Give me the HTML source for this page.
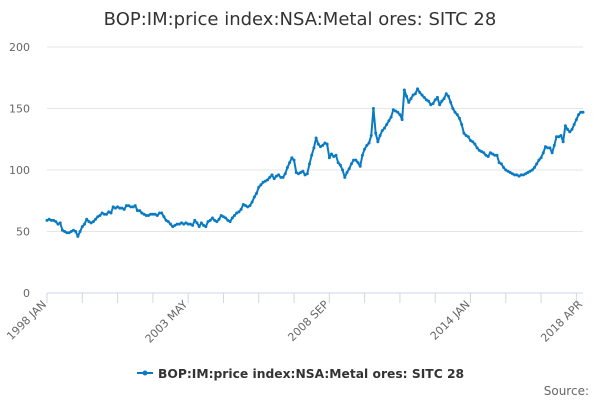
<!DOCTYPE html>
<html><head><meta charset="utf-8"><style>
body{margin:0;background:#fff;font-family:"DejaVu Sans","Liberation Sans",sans-serif;}
svg{display:block}
</style></head><body>
<svg id="chart" width="600" height="400">
<text x="300" y="25" text-anchor="middle" font-size="18" fill="#333">BOP:IM:price index:NSA:Metal ores: SITC 28</text>
<g id="grid"></g><g id="axes"></g><g id="series"></g>
<g>
<line x1="137" y1="373" x2="153" y2="373" stroke="#0a7bc2" stroke-width="2"/>
<circle cx="145" cy="373" r="2.5" fill="#0a7bc2"/>
<text x="158" y="378" font-size="12.3" font-weight="bold" fill="#333">BOP:IM:price index:NSA:Metal ores: SITC 28</text>
</g>
<text x="589" y="395" text-anchor="end" font-size="12" fill="#666">Source:</text>
</svg>
<script>
const values=[59,60,59,59,58,56,57,51,50,49,49,50,51,
50,46,50,54,56,60,58,57,58,60,62,63,65,
64,64,66,65,70,69,70,69,69,68,71,71,
70,70,71,67,67,65,64,63,63,64,64,64,
63,65,65,62,59,58,56,54,55,56,56,57,56,
57,56,56,55,59,57,54,57,55,54,58,59,61,
59,58,60,63,62,61,59,58,61,63,65,66,68,
72,71,70,71,74,78,81,86,88,90,91,92,94,
96,93,95,96,94,94,97,102,106,110,108,98,97,
98,99,96,97,105,112,118,126,121,119,120,122,121,
110,113,111,112,106,104,100,94,98,101,105,108,108,
106,103,112,117,120,122,128,150,130,123,128,132,134,
137,140,143,149,148,147,145,141,165,160,155,158,161,
162,166,163,161,159,157,156,153,154,157,159,153,156,
158,162,160,155,150,147,145,142,137,130,128,127,124,
123,121,118,116,115,114,112,111,114,113,112,112,106,
105,102,100,99,98,97,96,96,95,96,96,97,98,
99,100,102,105,108,110,114,119,118,118,114,120,127,
127,128,123,136,133,131,133,137,141,145,147,147];
const yTicks=[0,50,100,150,200];
const xTickLabels=['1998 JAN','2003 MAY','2008 SEP','2014 JAN','2018 APR'];
const xTickIdx=[0,64,128,192,243];
const NS='http://www.w3.org/2000/svg';
const x0=47,x1=583,y0=293,y1=47;
const xs=i=>x0+i*(x1-x0)/(values.length-1);
const ys=v=>y0-v*(y0-y1)/200;
function mk(t,a,p){const e=document.createElementNS(NS,t);for(const k in a)e.setAttribute(k,a[k]);p.appendChild(e);return e;}
const grid=document.getElementById('grid'),axes=document.getElementById('axes'),ser=document.getElementById('series');
yTicks.forEach(v=>{
 const l=mk('line',{x1:x0,x2:x1,y1:ys(v),y2:ys(v),stroke:v===0?'#ccd6eb':'#e6e6e6','stroke-width':1},grid);
 
 
 const t=mk('text',{x:30,y:ys(v)+4,'text-anchor':'end','font-size':11,fill:'#666'},axes);
 t.textContent=v;
 
 
});
for(let i=0;i<values.length;i+=16){
 const l=mk('line',{x1:xs(i),x2:xs(i),y1:y0,y2:y0+10,stroke:'#ccd6eb'},axes);
 
 
}
xTickLabels.forEach((s,k)=>{
 const x=xs(xTickIdx[k]),y=y0+12;
 const t=mk('text',{x:x,y:y,'text-anchor':'end','font-size':11,fill:'#666',transform:`rotate(-45 ${x} ${y})`},axes);
 t.textContent=s;
 
 
});
const p=mk('polyline',{points:values.map((v,i)=>xs(i)+','+ys(v)).join(' '),fill:'none',stroke:'#0a7bc2','stroke-width':2,'stroke-linejoin':'round'},ser);


values.forEach((v,i)=>{
 const c=mk('circle',{cx:xs(i),cy:ys(v),r:1.5,fill:'#0a7bc2'},ser);
 
 
});
</script>
</body></html>
